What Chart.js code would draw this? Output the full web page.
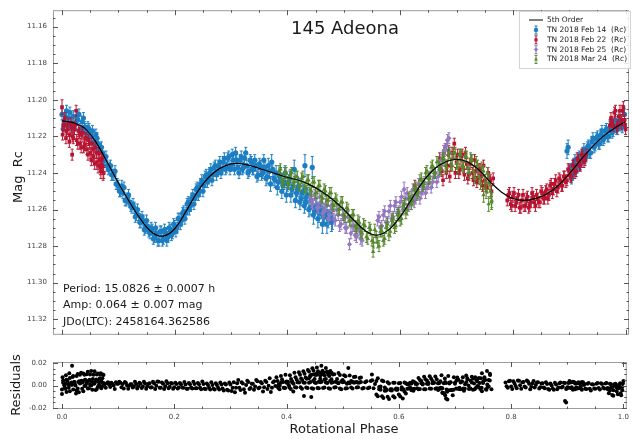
<!DOCTYPE html>
<html>
<head>
<meta charset="utf-8">
<script src="https://cdn.jsdelivr.net/npm/chart.js@4.4.0/dist/chart.umd.min.js"></script>
<style>
  body { margin: 0; background: #fff; width: 633px; height: 439px; overflow: hidden; position: relative; }
  #main { position: absolute; left: 0; top: 0; }
  #resid { position: absolute; left: 0; top: 345px; }
</style>
</head>
<body>
<canvas id="main" width="633" height="345"></canvas>
<canvas id="resid" width="633" height="94"></canvas>
<script>
// [phase, mag, error]
const feb14 = [
  [0.000,11.208,.003],[0.004,11.212,.003],[0.008,11.206,.003],[0.012,11.210,.003],[0.016,11.214,.003],
  [0.020,11.209,.003],[0.024,11.213,.003],[0.028,11.211,.003],[0.032,11.216,.003],[0.036,11.212,.003],
  [0.040,11.215,.003],[0.044,11.219,.003],[0.048,11.216,.003],[0.052,11.220,.003],[0.056,11.223,.003],
  [0.060,11.219,.003],[0.064,11.224,.003],[0.068,11.227,.003],[0.072,11.229,.003],[0.076,11.233,.003],
  [0.080,11.236,.003],[0.084,11.237,.003],[0.088,11.241,.003],[0.092,11.241,.003],[0.096,11.246,.003],
  [0.100,11.247,.003],[0.104,11.250,.003],[0.108,11.251,.003],[0.112,11.255,.003],[0.116,11.254,.003],
  [0.120,11.256,.003],[0.124,11.259,.003],[0.128,11.259,.003],[0.132,11.263,.003],[0.136,11.263,.003],
  [0.140,11.267,.003],[0.144,11.266,.003],[0.148,11.270,.003],[0.152,11.269,.003],[0.156,11.273,.003],
  [0.160,11.271,.003],[0.164,11.275,.003],[0.168,11.273,.003],[0.172,11.277,.003],[0.176,11.272,.003],
  [0.180,11.276,.003],[0.184,11.273,.003],[0.188,11.275,.003],[0.192,11.271,.003],[0.196,11.273,.003],
  [0.200,11.269,.003],[0.204,11.270,.003],[0.208,11.265,.003],[0.212,11.266,.003],[0.216,11.261,.003],
  [0.220,11.262,.003],[0.224,11.256,.003],[0.228,11.258,.003],[0.232,11.252,.003],[0.236,11.254,.003],
  [0.240,11.248,.003],[0.244,11.250,.003],[0.248,11.244,.003],[0.252,11.247,.003],[0.256,11.241,.003],
  [0.260,11.243,.003],[0.264,11.238,.003],[0.268,11.241,.003],[0.272,11.236,.003],[0.276,11.239,.003],
  [0.280,11.234,.003],[0.284,11.238,.003],[0.288,11.232,.003],[0.292,11.237,.003],[0.296,11.231,.003],
  [0.300,11.236,.003],[0.304,11.233,.003],[0.308,11.229,.003],[0.312,11.237,.003],[0.316,11.233,.003],
  [0.320,11.238,.003],[0.324,11.232,.003],[0.328,11.236,.003],[0.332,11.239,.003],[0.336,11.234,.003],
  [0.340,11.238,.003],[0.344,11.236,.003],[0.348,11.241,.003],[0.352,11.236,.003],[0.356,11.240,.003],
  [0.360,11.237,.003],[0.364,11.242,.004],[0.368,11.239,.004],[0.372,11.234,.004],[0.376,11.243,.004],
  [0.380,11.240,.004],[0.384,11.245,.004],[0.388,11.241,.004],[0.392,11.247,.004],[0.396,11.240,.004],
  [0.400,11.246,.004],[0.404,11.243,.004],[0.408,11.249,.004],[0.412,11.238,.005],[0.416,11.251,.004],
  [0.420,11.247,.004],[0.424,11.254,.004],[0.428,11.250,.004],[0.432,11.256,.004],[0.436,11.252,.004],
  [0.440,11.259,.004],[0.444,11.237,.006],[0.448,11.261,.004],[0.452,11.258,.004],[0.456,11.262,.005],
  [0.460,11.259,.004],[0.464,11.264,.005],[0.468,11.261,.004],[0.472,11.265,.005],[0.476,11.262,.004],
  [0.480,11.266,.005],
  [0.002,11.216,.003],[0.006,11.209,.003],[0.010,11.214,.003],[0.014,11.207,.003],[0.018,11.213,.003],
  [0.022,11.216,.003],[0.026,11.209,.003],[0.030,11.208,.003],[0.034,11.217,.003],[0.038,11.210,.003],
  [0.042,11.216,.003],[0.046,11.215,.003],[0.050,11.220,.003],[0.054,11.217,.003],[0.058,11.224,.003],
  [0.062,11.221,.003],[0.066,11.227,.003],[0.070,11.226,.003],[0.074,11.233,.003],[0.078,11.231,.003],
  [0.082,11.238,.003],[0.086,11.236,.003],[0.090,11.241,.003],[0.094,11.239,.003],[0.098,11.246,.003],
  [0.102,11.250,.003],[0.106,11.247,.003],[0.110,11.248,.003],[0.114,11.255,.003],[0.118,11.252,.003],
  [0.122,11.258,.003],[0.126,11.257,.003],[0.130,11.264,.003],[0.134,11.260,.003],[0.138,11.267,.003],
  [0.142,11.264,.003],[0.146,11.271,.003],[0.150,11.266,.003],[0.154,11.272,.003],[0.158,11.270,.003],
  [0.162,11.276,.003],[0.166,11.270,.003],[0.170,11.277,.003],[0.174,11.272,.003],[0.178,11.277,.003],
  [0.182,11.271,.003],[0.186,11.277,.003],[0.190,11.270,.003],[0.194,11.274,.003],[0.198,11.268,.003],
  [0.202,11.272,.003],[0.206,11.265,.003],[0.210,11.268,.003],[0.214,11.262,.003],[0.218,11.265,.003],
  [0.222,11.257,.003],[0.226,11.260,.003],[0.230,11.254,.003],[0.234,11.257,.003],[0.238,11.249,.003],
  [0.242,11.252,.003],[0.246,11.246,.003],[0.250,11.250,.003],[0.254,11.242,.003],[0.258,11.245,.003],
  [0.262,11.240,.003],[0.266,11.244,.003],[0.270,11.237,.003],[0.274,11.241,.003],[0.278,11.236,.003],
  [0.282,11.240,.003],[0.286,11.234,.003],[0.290,11.238,.003],[0.294,11.232,.003],[0.298,11.238,.003],
  [0.302,11.230,.003],[0.306,11.238,.003],[0.310,11.233,.003],[0.314,11.240,.003],[0.318,11.231,.003],
  [0.322,11.237,.003],[0.326,11.229,.003],[0.330,11.240,.003],[0.334,11.233,.003],[0.338,11.238,.003],
  [0.342,11.233,.003],[0.346,11.242,.003],[0.350,11.235,.003],[0.354,11.241,.003],[0.358,11.233,.003],
  [0.362,11.243,.004],[0.366,11.236,.004],[0.370,11.246,.004],[0.374,11.238,.004],[0.378,11.244,.004],
  [0.382,11.248,.004],[0.386,11.242,.004],[0.390,11.250,.004],[0.394,11.245,.004],[0.398,11.252,.004],
  [0.402,11.245,.004],[0.406,11.252,.004],[0.410,11.247,.004],[0.414,11.255,.004],[0.418,11.249,.004],
  [0.422,11.256,.004],[0.426,11.251,.004],[0.430,11.258,.004],[0.431,11.236,.006],[0.434,11.253,.004],
  [0.438,11.260,.004],[0.442,11.255,.004],[0.446,11.263,.005],[0.450,11.258,.004],[0.454,11.265,.005],
  [0.458,11.261,.004],[0.462,11.268,.005],[0.466,11.263,.004],[0.470,11.268,.005],[0.474,11.264,.004],
  [0.478,11.267,.005],
  [0.896,11.228,.004],[0.898,11.226,.004],[0.900,11.238,.003],[0.904,11.243,.003],[0.908,11.235,.003],
  [0.912,11.239,.003],[0.916,11.232,.003],[0.920,11.235,.003],[0.924,11.229,.003],[0.928,11.232,.003],
  [0.932,11.226,.003],[0.936,11.229,.003],[0.940,11.223,.003],[0.944,11.226,.003],[0.948,11.221,.003],
  [0.952,11.224,.003],[0.956,11.219,.003],[0.960,11.222,.003],[0.964,11.217,.003],[0.968,11.220,.003],
  [0.972,11.215,.003],[0.976,11.218,.003],[0.980,11.214,.003],[0.984,11.216,.003],[0.988,11.212,.003],
  [0.992,11.214,.003],
  [0.902,11.238,.003],[0.906,11.241,.003],[0.910,11.233,.003],[0.914,11.237,.003],[0.918,11.231,.003],
  [0.922,11.234,.003],[0.926,11.227,.003],[0.930,11.231,.003],[0.934,11.225,.003],[0.938,11.229,.003],
  [0.942,11.221,.003],[0.946,11.225,.003],[0.950,11.220,.003],[0.954,11.224,.003],[0.958,11.217,.003],
  [0.962,11.221,.003],[0.966,11.216,.003],[0.970,11.220,.003],[0.974,11.214,.003],[0.978,11.217,.003],
  [0.982,11.211,.003],[0.986,11.216,.003],[0.990,11.211,.003],[0.994,11.215,.003],[0.998,11.208,.003]
];

const feb22 = [
  [0.000,11.204,.004],[0.002,11.214,.003],[0.005,11.210,.003],[0.008,11.217,.003],[0.011,11.213,.003],
  [0.014,11.219,.003],[0.017,11.215,.003],[0.018,11.230,.003],[0.020,11.221,.003],[0.023,11.214,.003],
  [0.025,11.206,.003],[0.026,11.222,.003],[0.029,11.217,.003],[0.032,11.224,.003],[0.035,11.219,.003],
  [0.038,11.226,.003],[0.041,11.221,.003],[0.044,11.227,.003],[0.047,11.222,.003],[0.050,11.229,.003],
  [0.053,11.224,.003],[0.056,11.231,.003],[0.059,11.226,.003],[0.062,11.234,.004],[0.065,11.229,.003],
  [0.068,11.237,.004],[0.070,11.232,.003],[0.072,11.236,.003],[0.074,11.240,.003],
  [0.001,11.219,.003],[0.004,11.214,.003],[0.007,11.221,.003],[0.010,11.216,.003],[0.013,11.223,.003],
  [0.016,11.213,.003],[0.019,11.220,.003],[0.022,11.216,.003],[0.028,11.224,.003],[0.031,11.218,.003],
  [0.034,11.226,.003],[0.037,11.218,.003],[0.040,11.225,.003],[0.043,11.221,.003],[0.046,11.230,.003],
  [0.049,11.224,.003],[0.052,11.233,.003],[0.055,11.227,.003],[0.058,11.235,.003],[0.061,11.229,.003],
  [0.064,11.236,.004],[0.067,11.233,.003],[0.069,11.239,.004],[0.071,11.232,.003],[0.073,11.240,.004],
  [0.626,11.247,.003],[0.672,11.238,.003],[0.676,11.244,.003],[0.680,11.227,.003],[0.684,11.236,.003],
  [0.688,11.242,.003],[0.692,11.229,.003],[0.696,11.224,.003],[0.700,11.234,.003],[0.704,11.240,.003],
  [0.708,11.231,.003],[0.712,11.237,.003],[0.716,11.229,.003],[0.720,11.243,.003],[0.724,11.235,.003],
  [0.728,11.240,.003],[0.732,11.233,.003],[0.736,11.245,.003],[0.740,11.238,.003],[0.744,11.242,.003],
  [0.748,11.236,.003],[0.752,11.247,.003],[0.756,11.240,.003],[0.760,11.244,.003],
  [0.670,11.232,.003],[0.674,11.239,.003],[0.678,11.228,.003],[0.682,11.240,.003],[0.686,11.228,.003],
  [0.690,11.236,.003],[0.694,11.229,.003],[0.698,11.240,.003],[0.702,11.230,.003],[0.706,11.238,.003],
  [0.710,11.230,.003],[0.714,11.241,.003],[0.718,11.235,.003],[0.722,11.241,.003],[0.726,11.233,.003],
  [0.730,11.244,.003],[0.734,11.239,.003],[0.738,11.243,.003],[0.742,11.238,.003],[0.746,11.247,.003],
  [0.750,11.244,.003],[0.754,11.248,.003],[0.758,11.243,.003],[0.762,11.250,.003],[0.765,11.243,.003],
  [0.792,11.252,.003],[0.796,11.257,.003],[0.800,11.253,.003],[0.804,11.258,.003],[0.808,11.254,.003],
  [0.812,11.259,.003],[0.816,11.255,.003],[0.820,11.258,.003],[0.824,11.254,.003],[0.828,11.259,.003],
  [0.832,11.256,.003],[0.836,11.253,.003],[0.840,11.258,.003],[0.844,11.254,.003],[0.848,11.256,.003],
  [0.852,11.251,.003],[0.856,11.254,.003],[0.860,11.249,.003],[0.864,11.252,.003],[0.868,11.246,.003],
  [0.872,11.249,.003],[0.876,11.244,.003],[0.880,11.248,.003],[0.884,11.244,.003],[0.888,11.247,.003],
  [0.892,11.242,.003],[0.896,11.244,.003],[0.900,11.239,.003],[0.904,11.242,.003],[0.908,11.236,.003],
  [0.912,11.239,.003],[0.916,11.233,.003],[0.920,11.236,.003],[0.924,11.231,.003],[0.928,11.233,.003],
  [0.790,11.255,.003],[0.794,11.251,.003],[0.798,11.258,.003],[0.802,11.251,.003],[0.806,11.256,.003],
  [0.810,11.252,.003],[0.814,11.259,.003],[0.818,11.252,.003],[0.822,11.258,.003],[0.826,11.253,.003],
  [0.830,11.258,.003],[0.834,11.251,.003],[0.838,11.256,.003],[0.842,11.252,.003],[0.846,11.256,.003],
  [0.850,11.250,.003],[0.854,11.254,.003],[0.858,11.250,.003],[0.862,11.254,.003],[0.866,11.247,.003],
  [0.870,11.251,.003],[0.874,11.246,.003],[0.878,11.250,.003],[0.882,11.243,.003],[0.886,11.247,.003],
  [0.890,11.242,.003],[0.894,11.245,.003],[0.898,11.238,.003],[0.902,11.242,.003],[0.906,11.236,.003],
  [0.910,11.240,.003],[0.914,11.232,.003],[0.918,11.236,.003],[0.922,11.230,.003],[0.926,11.234,.003],
  [0.930,11.230,.003],
  [0.976,11.212,.003],[0.980,11.207,.003],[0.984,11.215,.003],[0.988,11.209,.003],[0.992,11.213,.003],
  [0.995,11.206,.003],[0.998,11.211,.003],[1.000,11.216,.003],
  [0.972,11.214,.003],[0.974,11.210,.003],[0.978,11.214,.003],[0.982,11.206,.003],[0.986,11.214,.003],
  [0.990,11.206,.003],[0.993,11.211,.003],[0.996,11.204,.003],[0.999,11.214,.003]
];

const feb25 = [
  [0.440,11.253,.003],[0.445,11.257,.003],[0.450,11.254,.003],[0.455,11.259,.003],[0.460,11.256,.003],
  [0.465,11.261,.003],[0.470,11.258,.003],[0.475,11.263,.003],[0.480,11.260,.003],[0.485,11.266,.003],
  [0.490,11.263,.003],[0.495,11.268,.003],[0.500,11.265,.003],[0.505,11.270,.003],[0.510,11.279,.003],
  [0.515,11.269,.003],[0.520,11.274,.003],[0.525,11.271,.003],[0.530,11.276,.003],
  [0.4425,11.256,.003],[0.4475,11.252,.003],[0.4525,11.259,.003],[0.4575,11.253,.003],[0.4625,11.262,.003],
  [0.4675,11.257,.003],[0.4725,11.265,.003],[0.4775,11.258,.003],[0.4825,11.265,.003],[0.4875,11.260,.003],
  [0.4925,11.269,.003],[0.4975,11.263,.003],[0.5025,11.270,.003],[0.5075,11.264,.003],[0.5125,11.273,.003],
  [0.5175,11.269,.003],[0.5225,11.275,.003],[0.5275,11.271,.003],[0.5325,11.277,.003],
  [0.560,11.266,.003],[0.565,11.270,.003],[0.570,11.263,.003],[0.575,11.267,.003],[0.580,11.261,.003],
  [0.585,11.265,.003],[0.590,11.258,.003],[0.595,11.262,.003],[0.600,11.256,.003],[0.605,11.260,.003],
  [0.607,11.249,.004],[0.610,11.254,.003],[0.615,11.258,.003],[0.620,11.253,.003],[0.625,11.256,.003],
  [0.630,11.251,.003],[0.635,11.254,.003],[0.640,11.249,.003],[0.645,11.251,.003],[0.650,11.246,.003],
  [0.655,11.248,.003],[0.660,11.242,.003],[0.665,11.245,.003],[0.670,11.238,.003],[0.675,11.233,.003],
  [0.680,11.227,.003],[0.684,11.222,.003],[0.688,11.229,.003],
  [0.5625,11.264,.003],[0.5675,11.269,.003],[0.5725,11.261,.003],[0.5775,11.267,.003],[0.5825,11.258,.003],
  [0.5875,11.264,.003],[0.5925,11.256,.003],[0.5975,11.261,.003],[0.6025,11.253,.003],[0.6075,11.257,.003],
  [0.6125,11.251,.003],[0.6175,11.257,.003],[0.6225,11.249,.003],[0.6275,11.254,.003],[0.6325,11.246,.003],
  [0.6375,11.251,.003],[0.6425,11.245,.003],[0.6475,11.248,.003],[0.6525,11.242,.003],[0.6575,11.245,.003],
  [0.6625,11.240,.003],[0.6675,11.242,.003],[0.6725,11.233,.003],[0.6775,11.228,.003],[0.6825,11.225,.003],
  [0.6865,11.221,.003]
];

const mar24 = [
  [0.385,11.239,.003],[0.390,11.244,.003],[0.395,11.240,.003],[0.400,11.245,.003],[0.405,11.241,.003],
  [0.410,11.246,.003],[0.415,11.242,.003],[0.420,11.247,.003],[0.425,11.243,.003],[0.430,11.248,.003],
  [0.435,11.244,.003],[0.440,11.249,.003],[0.445,11.245,.003],[0.450,11.251,.003],[0.455,11.247,.003],
  [0.460,11.253,.003],[0.465,11.249,.003],[0.470,11.255,.003],[0.475,11.251,.003],[0.480,11.257,.003],
  [0.485,11.254,.003],[0.490,11.260,.003],[0.495,11.256,.003],[0.500,11.263,.003],[0.505,11.259,.003],
  [0.510,11.266,.003],[0.515,11.263,.003],[0.520,11.269,.003],[0.525,11.266,.003],[0.530,11.272,.003],
  [0.535,11.268,.003],[0.540,11.275,.003],[0.545,11.270,.003],[0.550,11.277,.003],[0.552,11.283,.003],
  [0.555,11.271,.003],[0.560,11.278,.003],[0.565,11.272,.003],[0.570,11.277,.003],[0.575,11.270,.003],
  [0.580,11.274,.003],[0.585,11.266,.003],[0.590,11.270,.003],[0.595,11.263,.003],[0.600,11.266,.003],
  [0.605,11.258,.003],[0.610,11.262,.003],[0.615,11.254,.003],[0.620,11.257,.003],[0.625,11.249,.003],
  [0.630,11.252,.003],[0.635,11.244,.003],[0.640,11.247,.003],[0.645,11.240,.003],[0.650,11.243,.003],
  [0.655,11.237,.003],[0.660,11.240,.003],[0.665,11.234,.003],[0.670,11.238,.003],[0.675,11.232,.003],
  [0.680,11.236,.003],[0.685,11.230,.003],[0.690,11.235,.003],[0.695,11.229,.003],[0.700,11.235,.003],
  [0.705,11.230,.003],[0.710,11.236,.003],[0.715,11.231,.003],[0.720,11.237,.003],[0.725,11.232,.003],
  [0.730,11.239,.003],[0.735,11.234,.003],[0.740,11.242,.003],[0.745,11.237,.003],[0.748,11.252,.004],
  [0.750,11.245,.004],[0.755,11.240,.003],[0.757,11.257,.004],[0.760,11.250,.004],[0.762,11.256,.004],
  [0.3875,11.238,.003],[0.3925,11.245,.003],[0.3975,11.240,.003],[0.4025,11.246,.003],[0.4075,11.240,.003],
  [0.4125,11.245,.003],[0.4175,11.242,.003],[0.4225,11.247,.003],[0.4275,11.242,.003],[0.4325,11.248,.003],
  [0.4375,11.244,.003],[0.4425,11.250,.003],[0.4475,11.245,.003],[0.4525,11.251,.003],[0.4575,11.247,.003],
  [0.4625,11.254,.003],[0.4675,11.250,.003],[0.4725,11.255,.003],[0.4775,11.251,.003],[0.4825,11.258,.003],
  [0.4875,11.255,.003],[0.4925,11.260,.003],[0.4975,11.256,.003],[0.5025,11.264,.003],[0.5075,11.260,.003],
  [0.5125,11.266,.003],[0.5175,11.263,.003],[0.5225,11.270,.003],[0.5275,11.267,.003],[0.5325,11.273,.003],
  [0.5375,11.269,.003],[0.5425,11.276,.003],[0.5475,11.271,.003],[0.5525,11.278,.003],[0.5575,11.275,.003],
  [0.5625,11.280,.003],[0.5675,11.272,.003],[0.5725,11.276,.003],[0.5775,11.268,.003],[0.5825,11.272,.003],
  [0.5875,11.265,.003],[0.5925,11.269,.003],[0.5975,11.262,.003],[0.6025,11.265,.003],[0.6075,11.257,.003],
  [0.6125,11.260,.003],[0.6175,11.253,.003],[0.6225,11.255,.003],[0.6275,11.248,.003],[0.6325,11.250,.003],
  [0.6375,11.243,.003],[0.6425,11.246,.003],[0.6475,11.239,.003],[0.6525,11.243,.003],[0.6575,11.236,.003],
  [0.6625,11.240,.003],[0.6675,11.234,.003],[0.6725,11.238,.003],[0.6775,11.232,.003],[0.6825,11.237,.003],
  [0.6875,11.229,.003],[0.6925,11.236,.003],[0.6975,11.229,.003],[0.7025,11.237,.003],[0.7075,11.230,.003],
  [0.7125,11.237,.003],[0.7175,11.231,.003],[0.7225,11.240,.003],[0.7275,11.233,.003],[0.7325,11.243,.003],
  [0.7375,11.236,.003],[0.7425,11.246,.003],[0.7475,11.239,.003],[0.7525,11.250,.004],[0.7575,11.245,.004],
  [0.7625,11.255,.004]
];

// 5th order Fourier fit, [phase, mag]
const fitCurve = [
  [0.00,11.2115],[0.02,11.2125],[0.04,11.2155],[0.06,11.2230],[0.08,11.2340],[0.10,11.2455],
  [0.12,11.2560],[0.14,11.2655],[0.16,11.2725],[0.18,11.2745],[0.20,11.2705],[0.22,11.2610],
  [0.24,11.2505],[0.26,11.2425],[0.28,11.2375],[0.30,11.2350],[0.32,11.2350],[0.34,11.2365],
  [0.36,11.2385],[0.38,11.2405],[0.40,11.2425],[0.42,11.2440],[0.44,11.2465],[0.46,11.2500],
  [0.48,11.2545],[0.50,11.2600],[0.52,11.2665],[0.54,11.2720],[0.56,11.2740],[0.58,11.2710],
  [0.60,11.2640],[0.62,11.2545],[0.64,11.2450],[0.66,11.2380],[0.68,11.2340],[0.70,11.2325],
  [0.72,11.2340],[0.74,11.2385],[0.76,11.2450],[0.78,11.2505],[0.80,11.2540],[0.82,11.2550],
  [0.84,11.2540],[0.86,11.2515],[0.88,11.2470],[0.90,11.2405],[0.92,11.2330],[0.94,11.2260],
  [0.96,11.2200],[0.98,11.2155],[1.00,11.2120]
];

const seriesLabels = ['TN 2018 Feb 14  (Rc)', 'TN 2018 Feb 22  (Rc)', 'TN 2018 Feb 25  (Rc)', 'TN 2018 Mar 24  (Rc)'];
const phaseTicks = [0.0, 0.2, 0.4, 0.6, 0.8, 1.0];
const magTicks = [11.16, 11.18, 11.20, 11.22, 11.24, 11.26, 11.28, 11.30, 11.32];
const residTicks = [-0.02, 0.00, 0.02];
const statLines = ['Period: 15.0826 \u00b1 0.0007 h', 'Amp: 0.064 \u00b1 0.007 mag', 'JDo(LTC): 2458164.362586'];

const COLORS = ['#1b7dc2', '#b81431', '#9378bf', '#56892b'];
const STYLES = ['circle', 'rect', 'rectRot', 'triangle'];
const FONT = '"DejaVu Sans", sans-serif';

function fitAt(p) {
  for (let i = 0; i < fitCurve.length - 1; i++) {
    const a = fitCurve[i], b = fitCurve[i + 1];
    if (p >= a[0] && p <= b[0]) return a[1] + (b[1] - a[1]) * (p - a[0]) / (b[0] - a[0]);
  }
  return fitCurve[fitCurve.length - 1][1];
}

function series(i, rows, order) {
  return {
    label: seriesLabels[i],
    data: rows.map(r => ({ x: r[0], y: r[1] })),
    errors: rows.map(r => r[2]),
    backgroundColor: COLORS[i],
    borderColor: COLORS[i],
    borderWidth: 0,
    pointStyle: STYLES[i],
    pointRadius: 2.6,
    order: order
  };
}

// error bars under each dataset's markers
const errorBars = {
  id: 'errorBars',
  beforeDatasetDraw(chart, args) {
    const ds = chart.data.datasets[args.index];
    if (!ds.errors) return;
    const x = chart.scales.x, y = chart.scales.y, ctx = chart.ctx;
    ctx.save();
    ctx.strokeStyle = ds.borderColor;
    ctx.lineWidth = 1;
    ctx.beginPath();
    ds.data.forEach((p, i) => {
      const px = x.getPixelForValue(p.x);
      const y1 = y.getPixelForValue(p.y - ds.errors[i]);
      const y2 = y.getPixelForValue(p.y + ds.errors[i]);
      ctx.moveTo(px, y1); ctx.lineTo(px, y2);
      ctx.moveTo(px - 1.5, y1); ctx.lineTo(px + 1.5, y1);
      ctx.moveTo(px - 1.5, y2); ctx.lineTo(px + 1.5, y2);
    });
    ctx.stroke();
    ctx.restore();
  }
};

// matplotlib-like frame with inward ticks
function frameTicks(yMajor, yMinorStep) {
  return {
    id: 'frameTicks',
    afterDatasetsDraw(chart) {
      const { ctx, chartArea: a, scales } = chart;
      ctx.save();
      ctx.strokeStyle = '#9c9c9c';
      ctx.lineWidth = 1;
      ctx.strokeRect(a.left + 0.5, a.top + 0.5, a.right - a.left - 1, a.bottom - a.top - 1);
      ctx.strokeStyle = '#555';
      ctx.beginPath();
      const xt = (v, len) => {
        const p = Math.round(scales.x.getPixelForValue(v)) + 0.5;
        ctx.moveTo(p, a.bottom); ctx.lineTo(p, a.bottom - len);
        ctx.moveTo(p, a.top); ctx.lineTo(p, a.top + len);
      };
      const yt = (v, len) => {
        const p = Math.round(scales.y.getPixelForValue(v)) + 0.5;
        if (p < a.top || p > a.bottom) return;
        ctx.moveTo(a.left, p); ctx.lineTo(a.left + len, p);
        ctx.moveTo(a.right, p); ctx.lineTo(a.right - len, p);
      };
      phaseTicks.forEach(v => xt(v, 5));
      for (let k = 1; k < 20; k++) if (k % 4) xt(k * 0.05, 2.5);
      yMajor.forEach(v => yt(v, 5));
      const y0 = yMajor[0] - 4 * yMinorStep, y1 = yMajor[yMajor.length - 1] + 4 * yMinorStep;
      for (let v = y0, k = 0; v <= y1 + 1e-9; v += yMinorStep, k++) if (k % 4) yt(v, 2.5);
      ctx.stroke();
      ctx.restore();
    }
  };
}

const mainText = {
  id: 'mainText',
  afterDraw(chart) {
    const ctx = chart.ctx;
    ctx.save();
    ctx.fillStyle = '#1a1a1a';
    ctx.textAlign = 'center';
    ctx.textBaseline = 'middle';
    ctx.font = '18px ' + FONT;
    ctx.fillText('145 Adeona', 345, 29);
    ctx.font = '11px ' + FONT;
    ctx.textAlign = 'left';
    statLines.forEach((t, i) => ctx.fillText(t, 63, 289 + i * 16.5));
    ctx.save();
    ctx.translate(19, 177);
    ctx.rotate(-Math.PI / 2);
    ctx.textAlign = 'center';
    ctx.font = '13px ' + FONT;
    ctx.fillText('Mag  Rc', 0, 0);
    ctx.restore();

    // legend
    ctx.fillStyle = 'rgba(255,255,255,0.85)';
    ctx.fillRect(519, 11, 111, 57);
    ctx.strokeStyle = '#d4d4d4';
    ctx.strokeRect(519.5, 11.5, 111, 57);
    ctx.font = '7.5px ' + FONT;
    ctx.fillStyle = '#222';
    ctx.strokeStyle = '#000';
    ctx.lineWidth = 1;
    ctx.beginPath(); ctx.moveTo(529, 20); ctx.lineTo(543, 20); ctx.stroke();
    ctx.fillText('5th Order', 547, 20);
    seriesLabels.forEach((t, i) => {
      const ly = 30 + i * 9.8;
      ctx.strokeStyle = COLORS[i];
      ctx.fillStyle = COLORS[i];
      ctx.beginPath();
      ctx.moveTo(536, ly - 4); ctx.lineTo(536, ly + 4);
      ctx.moveTo(534.5, ly - 4); ctx.lineTo(537.5, ly - 4);
      ctx.moveTo(534.5, ly + 4); ctx.lineTo(537.5, ly + 4);
      ctx.stroke();
      Chart.helpers.drawPoint(ctx, { pointStyle: STYLES[i], radius: 2.2, rotation: 0, borderWidth: 0 }, 536, ly);
      ctx.fillStyle = '#222';
      ctx.fillText(t, 547, ly);
    });
    ctx.restore();
  }
};

const residText = {
  id: 'residText',
  afterDraw(chart) {
    const ctx = chart.ctx;
    ctx.save();
    ctx.fillStyle = '#1a1a1a';
    ctx.textAlign = 'center';
    ctx.textBaseline = 'middle';
    ctx.font = '13px ' + FONT;
    ctx.fillText('Rotational Phase', 344, 85);
    ctx.translate(17, 40);
    ctx.rotate(-Math.PI / 2);
    ctx.fillText('Residuals', 0, 0);
    ctx.restore();
  }
};

const tickFont = { family: FONT, size: 7 };

new Chart(document.getElementById('main'), {
  type: 'scatter',
  data: {
    datasets: [
      {
        label: '5th Order',
        data: fitCurve.map(r => ({ x: r[0], y: r[1] })),
        showLine: true,
        borderColor: '#000',
        borderWidth: 1.2,
        pointRadius: 0,
        tension: 0.4,
        order: 0
      },
      series(3, mar24, 1),
      series(2, feb25, 2),
      series(1, feb22, 3),
      series(0, feb14, 4)
    ]
  },
  options: {
    responsive: false,
    animation: false,
    devicePixelRatio: 1,
    layout: { padding: { left: 0, right: 2, top: 8, bottom: 7 } },
    plugins: { legend: { display: false }, tooltip: { enabled: false } },
    scales: {
      x: {
        type: 'linear', min: -0.016, max: 1.006,
        grid: { display: false, drawTicks: false },
        border: { display: false },
        ticks: { display: false },
        afterFit: s => { s.height = 0; }
      },
      y: {
        type: 'linear', reverse: true, min: 11.151, max: 11.3285,
        grid: { display: false, drawTicks: false },
        border: { display: false },
        afterBuildTicks: s => { s.ticks = magTicks.map(v => ({ value: v })); },
        ticks: { font: tickFont, color: '#444', padding: 6, callback: v => v.toFixed(2) },
        afterFit: s => { s.width = 53; }
      }
    }
  },
  plugins: [errorBars, frameTicks(magTicks, 0.005), mainText]
});

const allRows = feb14.concat(feb22, feb25, mar24);

new Chart(document.getElementById('resid'), {
  type: 'scatter',
  data: {
    datasets: [{
      label: 'Residuals',
      data: allRows.map(r => ({ x: r[0], y: r[1] - fitAt(r[0]) })),
      backgroundColor: '#000',
      borderWidth: 0,
      pointRadius: 2
    }]
  },
  options: {
    responsive: false,
    animation: false,
    devicePixelRatio: 1,
    layout: { padding: { left: 0, right: 2, top: 17, bottom: 0 } },
    plugins: { legend: { display: false }, tooltip: { enabled: false } },
    scales: {
      x: {
        type: 'linear', min: -0.016, max: 1.006,
        grid: { display: false, drawTicks: false },
        border: { display: false },
        afterBuildTicks: s => { s.ticks = phaseTicks.map(v => ({ value: v })); },
        ticks: { font: tickFont, color: '#444', padding: 4, maxRotation: 0, callback: v => v.toFixed(1) },
        afterFit: s => { s.height = 30; }
      },
      y: {
        type: 'linear', min: -0.021, max: 0.021,
        grid: { display: false, drawTicks: false },
        border: { display: false },
        afterBuildTicks: s => { s.ticks = residTicks.map(v => ({ value: v })); },
        ticks: { font: tickFont, color: '#444', padding: 6, callback: v => v.toFixed(2) },
        afterFit: s => { s.width = 53; }
      }
    }
  },
  plugins: [frameTicks(residTicks, 0.005), residText]
});
</script>
</body>
</html>
